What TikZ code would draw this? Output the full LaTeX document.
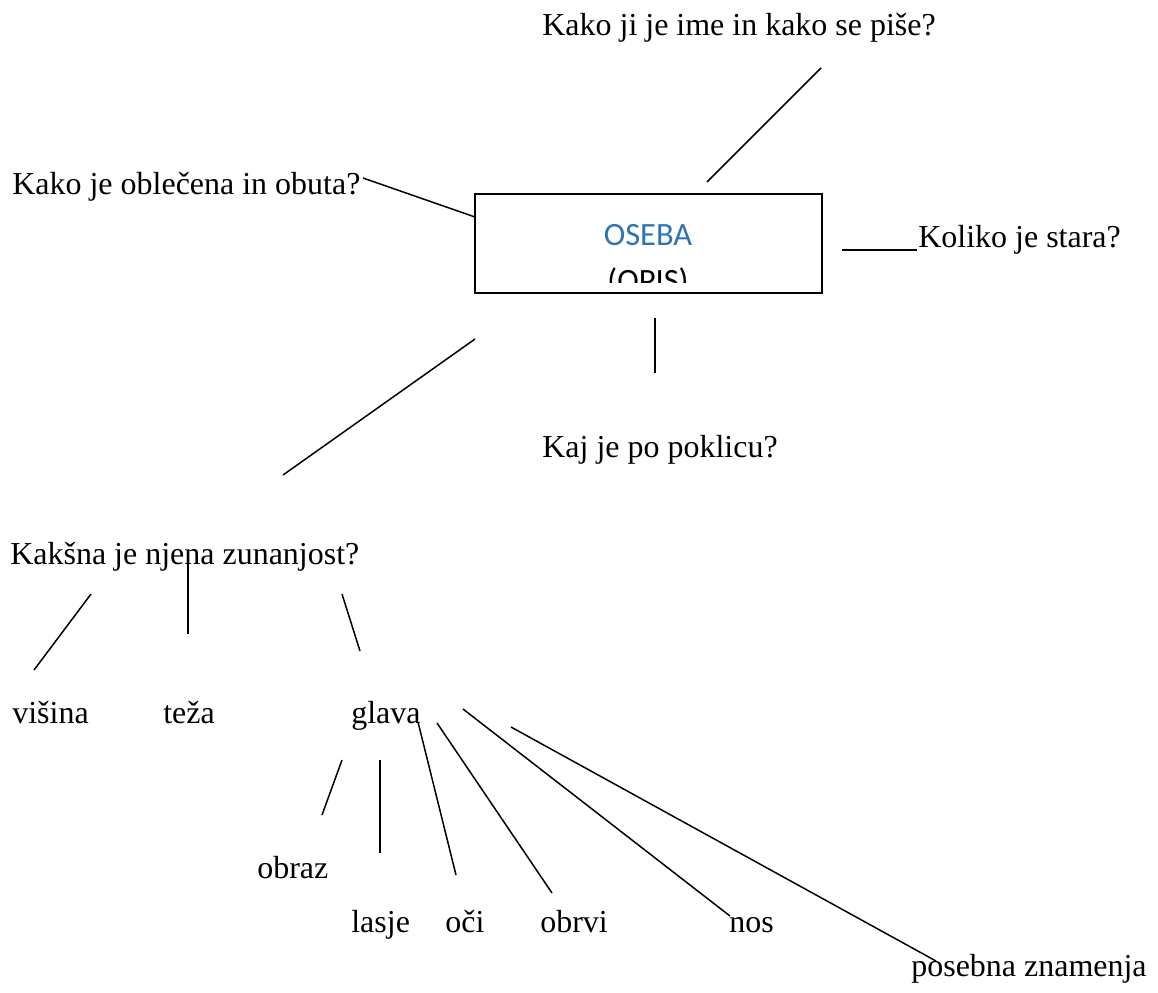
\documentclass[tikz,border=0pt]{standalone}
\usepackage{fontspec}
\setmainfont{Liberation Serif}
\newfontfamily\boxfont{Carlito}
\usetikzlibrary{positioning}
\definecolor{wordblue}{HTML}{2E74B5}

\begin{document}
\begin{tikzpicture}[x=0.02cm, y=-0.02cm,
    every node/.style={inner sep=0pt, font=\fontsize{18.2}{22}\selectfont},
    txt/.style={anchor=base west},
    line/.style={black, line width=0.85pt}]
    \useasboundingbox (0,0) rectangle (1158,992);

    % Central box
    \node[draw, line width=1.1pt, minimum width=6.94cm, minimum height=1.98cm] (oseba) at (648.5,243.5) {};
    \node[anchor=base, text=wordblue, font=\boxfont\fontsize{18.5}{22}\selectfont] (naslov) at (648,245) {OSEBA};
    \begin{scope}
        \clip (475,194) rectangle (822,282);
        \node[anchor=base, font=\boxfont\fontsize{18.5}{22}\selectfont] (opis) at (648,291) {(OPIS)};
    \end{scope}

    % Questions round the box
    \node[txt] (ime) at (542,35) {Kako ji je ime in kako se piše?};
    \node[txt] (oblecena) at (12,194) {Kako je oblečena in obuta?};
    \node[txt] (stara) at (918,247) {Koliko je stara?};
    \node[txt] (poklic) at (542,457) {Kaj je po poklicu?};
    \node[txt] (zunanjost) at (10,564) {Kakšna je njena zunanjost?};

    % Appearance
    \node[txt] (visina) at (12,723) {višina};
    \node[txt] (teza) at (163,723) {teža};
    \node[txt] (glava) at (351,723) {glava};

    % Head
    \node[txt] (obraz) at (257,878) {obraz};
    \node[txt] (lasje) at (351,932) {lasje};
    \node[txt] (oci) at (445,932) {oči};
    \node[txt] (obrvi) at (540,932) {obrvi};
    \node[txt] (nos) at (729,932) {nos};
    \node[txt] (znamenja) at (911,976) {posebna znamenja};

    % Line ends
    \coordinate (a1) at (821,68);   \coordinate (a2) at (707,182);
    \coordinate (b1) at (363,178);  \coordinate (b2) at (475,217);
    \coordinate (c1) at (842,250);  \coordinate (c2) at (917,250);
    \coordinate (d1) at (655,318);  \coordinate (d2) at (655,373);
    \coordinate (e1) at (475,339);  \coordinate (e2) at (283,475);
    \coordinate (f1) at (91,594);   \coordinate (f2) at (34,670);
    \coordinate (g1) at (188,562);  \coordinate (g2) at (188,634);
    \coordinate (h1) at (342,594);  \coordinate (h2) at (360,651);
    \coordinate (i1) at (342,760);  \coordinate (i2) at (322,815);
    \coordinate (j1) at (380,760);  \coordinate (j2) at (380,853);
    \coordinate (k1) at (418,722);  \coordinate (k2) at (456,875);
    \coordinate (l1) at (437,723);  \coordinate (l2) at (552,893);
    \coordinate (m1) at (463,709);  \coordinate (m2) at (730,916);
    \coordinate (n1) at (511,727);  \coordinate (n2) at (936,961);

    % Lines
    \foreach \p in {a,b,c,d,e,f,g,h,i,j,k,l,m,n} {
        \draw[line] (\p1) -- (\p2);
    }
\end{tikzpicture}
\end{document}
